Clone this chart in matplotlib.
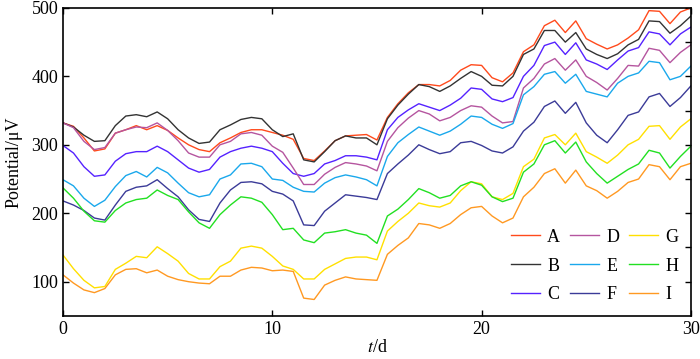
import numpy as np
import matplotlib
matplotlib.use("Agg")
import matplotlib.pyplot as plt

t = np.arange(0, 30.01, 0.5)

A = [332, 327, 310, 291, 294, 317, 322, 328, 322, 328, 321, 310, 300, 293, 290, 303, 310, 318, 322, 322,
     318, 314, 308, 280, 277, 291, 306, 313, 314, 315, 307, 340, 360, 376, 388, 388, 386, 394, 409, 417,
     416, 398, 392, 405, 436, 446, 474, 482, 464, 481, 455, 447, 440, 446, 456, 468, 496, 495, 477, 494, 500]
B = [332, 326, 314, 305, 306, 328, 342, 344, 341, 348, 338, 322, 310, 302, 304, 322, 329, 337, 340, 338,
     322, 312, 316, 278, 275, 290, 306, 313, 310, 310, 300, 338, 358, 374, 388, 385, 378, 386, 397, 407,
     400, 387, 386, 400, 432, 440, 467, 467, 450, 464, 440, 432, 426, 433, 446, 454, 481, 480, 463, 474, 488]
C = [299, 288, 268, 254, 256, 276, 287, 290, 290, 298, 290, 278, 266, 260, 264, 282, 290, 295, 298, 295,
     290, 273, 258, 254, 258, 272, 277, 284, 284, 282, 278, 322, 340, 351, 360, 355, 350, 358, 368, 383,
     381, 367, 363, 369, 400, 416, 445, 450, 432, 449, 424, 418, 410, 424, 437, 442, 465, 462, 446, 462, 472]
D = [332, 325, 305, 293, 296, 317, 322, 326, 325, 332, 321, 306, 288, 282, 282, 300, 305, 316, 318, 314,
     298, 289, 266, 242, 242, 257, 267, 274, 272, 269, 262, 305, 325, 339, 350, 345, 335, 340, 350, 357,
     355, 342, 332, 334, 383, 397, 418, 426, 409, 424, 400, 391, 380, 397, 416, 415, 441, 438, 420, 435, 446]
E = [249, 240, 222, 210, 219, 239, 255, 261, 253, 267, 259, 244, 230, 224, 227, 250, 256, 272, 273, 268,
     250, 248, 238, 232, 231, 244, 252, 256, 253, 249, 240, 283, 303, 315, 326, 320, 314, 320, 330, 342,
     340, 330, 324, 331, 373, 385, 403, 407, 390, 403, 378, 374, 370, 390, 400, 405, 422, 420, 395, 400, 415]
F = [218, 212, 204, 193, 190, 212, 232, 238, 240, 249, 236, 224, 205, 191, 188, 215, 234, 245, 246, 243,
     232, 228, 218, 183, 182, 203, 215, 227, 225, 223, 220, 258, 272, 285, 300, 293, 287, 290, 303, 305,
     299, 291, 288, 297, 320, 333, 356, 364, 346, 362, 332, 314, 303, 322, 343, 348, 370, 375, 356, 369, 386]
G = [139, 119, 102, 91, 93, 118, 127, 137, 135, 151, 141, 130, 112, 104, 104, 122, 130, 149, 152, 149,
     137, 123, 118, 104, 104, 118, 126, 134, 136, 136, 132, 174, 188, 200, 215, 211, 209, 215, 233, 246,
     243, 224, 220, 229, 268, 279, 310, 315, 300, 317, 290, 282, 273, 285, 300, 308, 327, 328, 308, 326, 338]
H = [237, 222, 203, 189, 187, 204, 215, 220, 222, 234, 226, 220, 202, 186, 178, 198, 212, 224, 222, 216,
     198, 176, 178, 161, 157, 171, 173, 176, 171, 168, 156, 196, 206, 220, 236, 230, 222, 226, 240, 246,
     241, 224, 217, 222, 260, 272, 300, 306, 288, 304, 275, 258, 244, 254, 264, 272, 292, 288, 266, 283, 298]
I = [110, 98, 88, 84, 90, 110, 118, 119, 113, 117, 108, 103, 100, 98, 97, 108, 108, 117, 121, 120,
     116, 117, 115, 76, 74, 95, 102, 107, 104, 103, 102, 140, 153, 164, 185, 183, 178, 185, 198, 208,
     210, 196, 186, 193, 224, 238, 258, 265, 244, 263, 240, 233, 222, 232, 245, 250, 271, 268, 249, 268, 273]

labels = ["A", "B", "C", "D", "E", "F", "G", "H", "I"]
series = [A, B, C, D, E, F, G, H, I]
colors = ["#ff4a1c", "#333333", "#5522ff", "#b5559f", "#1aa8ec",
          "#3b3b98", "#ffe000", "#22e022", "#ff9922"]

plt.rcParams['font.family'] = ['Liberation Serif', 'DejaVu Serif']
plt.rcParams['mathtext.fontset'] = 'stix'

fig = plt.figure(figsize=(7.0, 3.59), dpi=100)
ax = fig.add_axes([0.09, 0.12, 0.897, 0.858])

for y, c, lab in zip(series, colors, labels):
    ax.plot(t, y, color=c, lw=1.0, label=lab)

ax.set_xlim(0, 30)
ax.set_ylim(50, 500)
ax.set_xticks([0, 10, 20, 30])
ax.set_yticks([100, 200, 300, 400, 500])
ax.set_yticks(np.arange(100, 500, 50), minor=True)
ax.tick_params(which='major', direction='in', length=4, top=True, right=True,
               labelsize=13, width=1)
ax.tick_params(which='minor', direction='in', length=4, left=False, right=True,
               top=False, bottom=False, width=1)
for s in ax.spines.values():
    s.set_linewidth(1.2)

ax.set_xlabel(r"$t$/d", fontsize=13, labelpad=1)
ax.set_ylabel("Potential/μV", fontsize=13, labelpad=6)

leg = ax.legend(ncol=3, loc='lower right', frameon=False, fontsize=13,
                handlelength=1.6, handletextpad=0.4, columnspacing=0.55,
                labelspacing=0.65, borderaxespad=0.3)

fig.savefig("out.png", dpi=100)
